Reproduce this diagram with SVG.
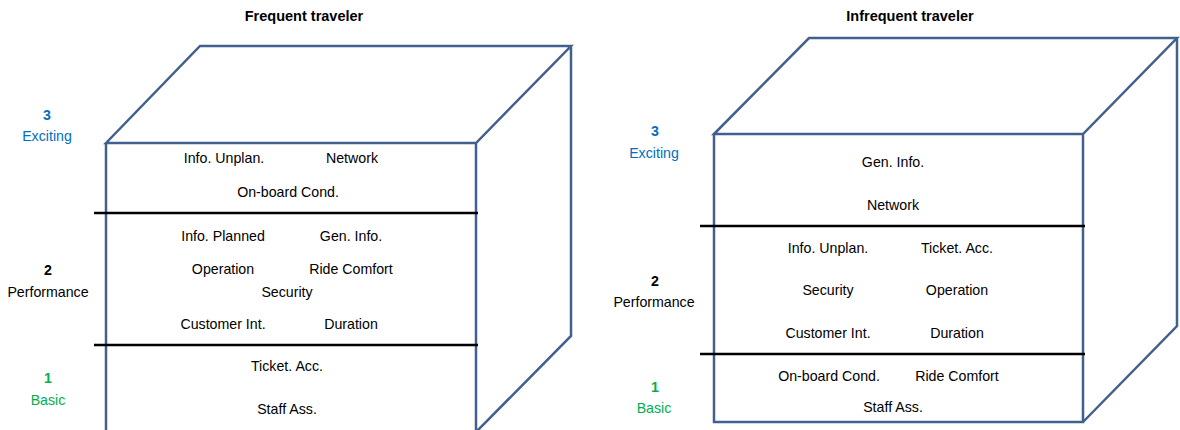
<svg xmlns="http://www.w3.org/2000/svg" width="1180" height="430" viewBox="0 0 1180 430">
<style>
.cube{fill:none;stroke:#41608E;stroke-width:2.5;stroke-linejoin:miter}
.div{stroke:#000;stroke-width:2.5}
text{font-family:"Liberation Sans",Arial,sans-serif;font-size:14.2px;fill:#000;text-anchor:middle}
.title{font-weight:bold;font-size:14.5px}
.num{font-weight:bold}
.ex{fill:#0070C0}
.ba{fill:#00B050}
</style>
<rect width="1180" height="430" fill="#fff"/>
<text class="title" x="304" y="21">Frequent traveler</text>
<text class="title" x="910" y="21">Infrequent traveler</text>

<g id="cube-frequent">
<path class="cube" d="M106,143 L200,46 L571,46 L476,143 Z M476,143 L476,432 M571,46 L571,336 L476,432 M106,143 L106,432"/>
<line class="div" x1="94" y1="213" x2="478" y2="213"/>
<line class="div" x1="94" y1="345" x2="478" y2="345"/>
<text x="224" y="163">Info. Unplan.</text>
<text x="352" y="163">Network</text>
<text x="288" y="197">On-board Cond.</text>
<text x="223" y="241">Info. Planned</text>
<text x="351" y="241">Gen. Info.</text>
<text x="223" y="274">Operation</text>
<text x="351" y="274">Ride Comfort</text>
<text x="287" y="297">Security</text>
<text x="223" y="329">Customer Int.</text>
<text x="351" y="329">Duration</text>
<text x="287" y="371">Ticket. Acc.</text>
<text x="287" y="414">Staff Ass.</text>
</g>

<g id="labels-frequent">
<text class="num ex" x="47" y="120">3</text>
<text class="ex" x="47" y="141">Exciting</text>
<text class="num" x="48" y="275">2</text>
<text x="48" y="297">Performance</text>
<text class="num ba" x="48" y="383">1</text>
<text class="ba" x="48" y="405">Basic</text>
</g>

<g id="cube-infrequent">
<path class="cube" d="M714,134 L809,38 L1177,38 L1083,134 Z M714,134 L714,422 L1083,422 L1083,134 M1177,38 L1177,326 L1083,422"/>
<line class="div" x1="700" y1="226" x2="1085" y2="226"/>
<line class="div" x1="700" y1="354" x2="1085" y2="354"/>
<text x="893" y="167">Gen. Info.</text>
<text x="893" y="210">Network</text>
<text x="828" y="253">Info. Unplan.</text>
<text x="957" y="253">Ticket. Acc.</text>
<text x="828" y="295">Security</text>
<text x="957" y="295">Operation</text>
<text x="828" y="338">Customer Int.</text>
<text x="957" y="338">Duration</text>
<text x="829" y="381">On-board Cond.</text>
<text x="957" y="381">Ride Comfort</text>
<text x="893" y="412">Staff Ass.</text>
</g>

<g id="labels-infrequent">
<text class="num ex" x="655" y="136">3</text>
<text class="ex" x="654" y="158">Exciting</text>
<text class="num" x="655" y="286">2</text>
<text x="654" y="307">Performance</text>
<text class="num ba" x="655" y="392">1</text>
<text class="ba" x="654" y="413">Basic</text>
</g>
<g id="connectors"/>
</svg>
